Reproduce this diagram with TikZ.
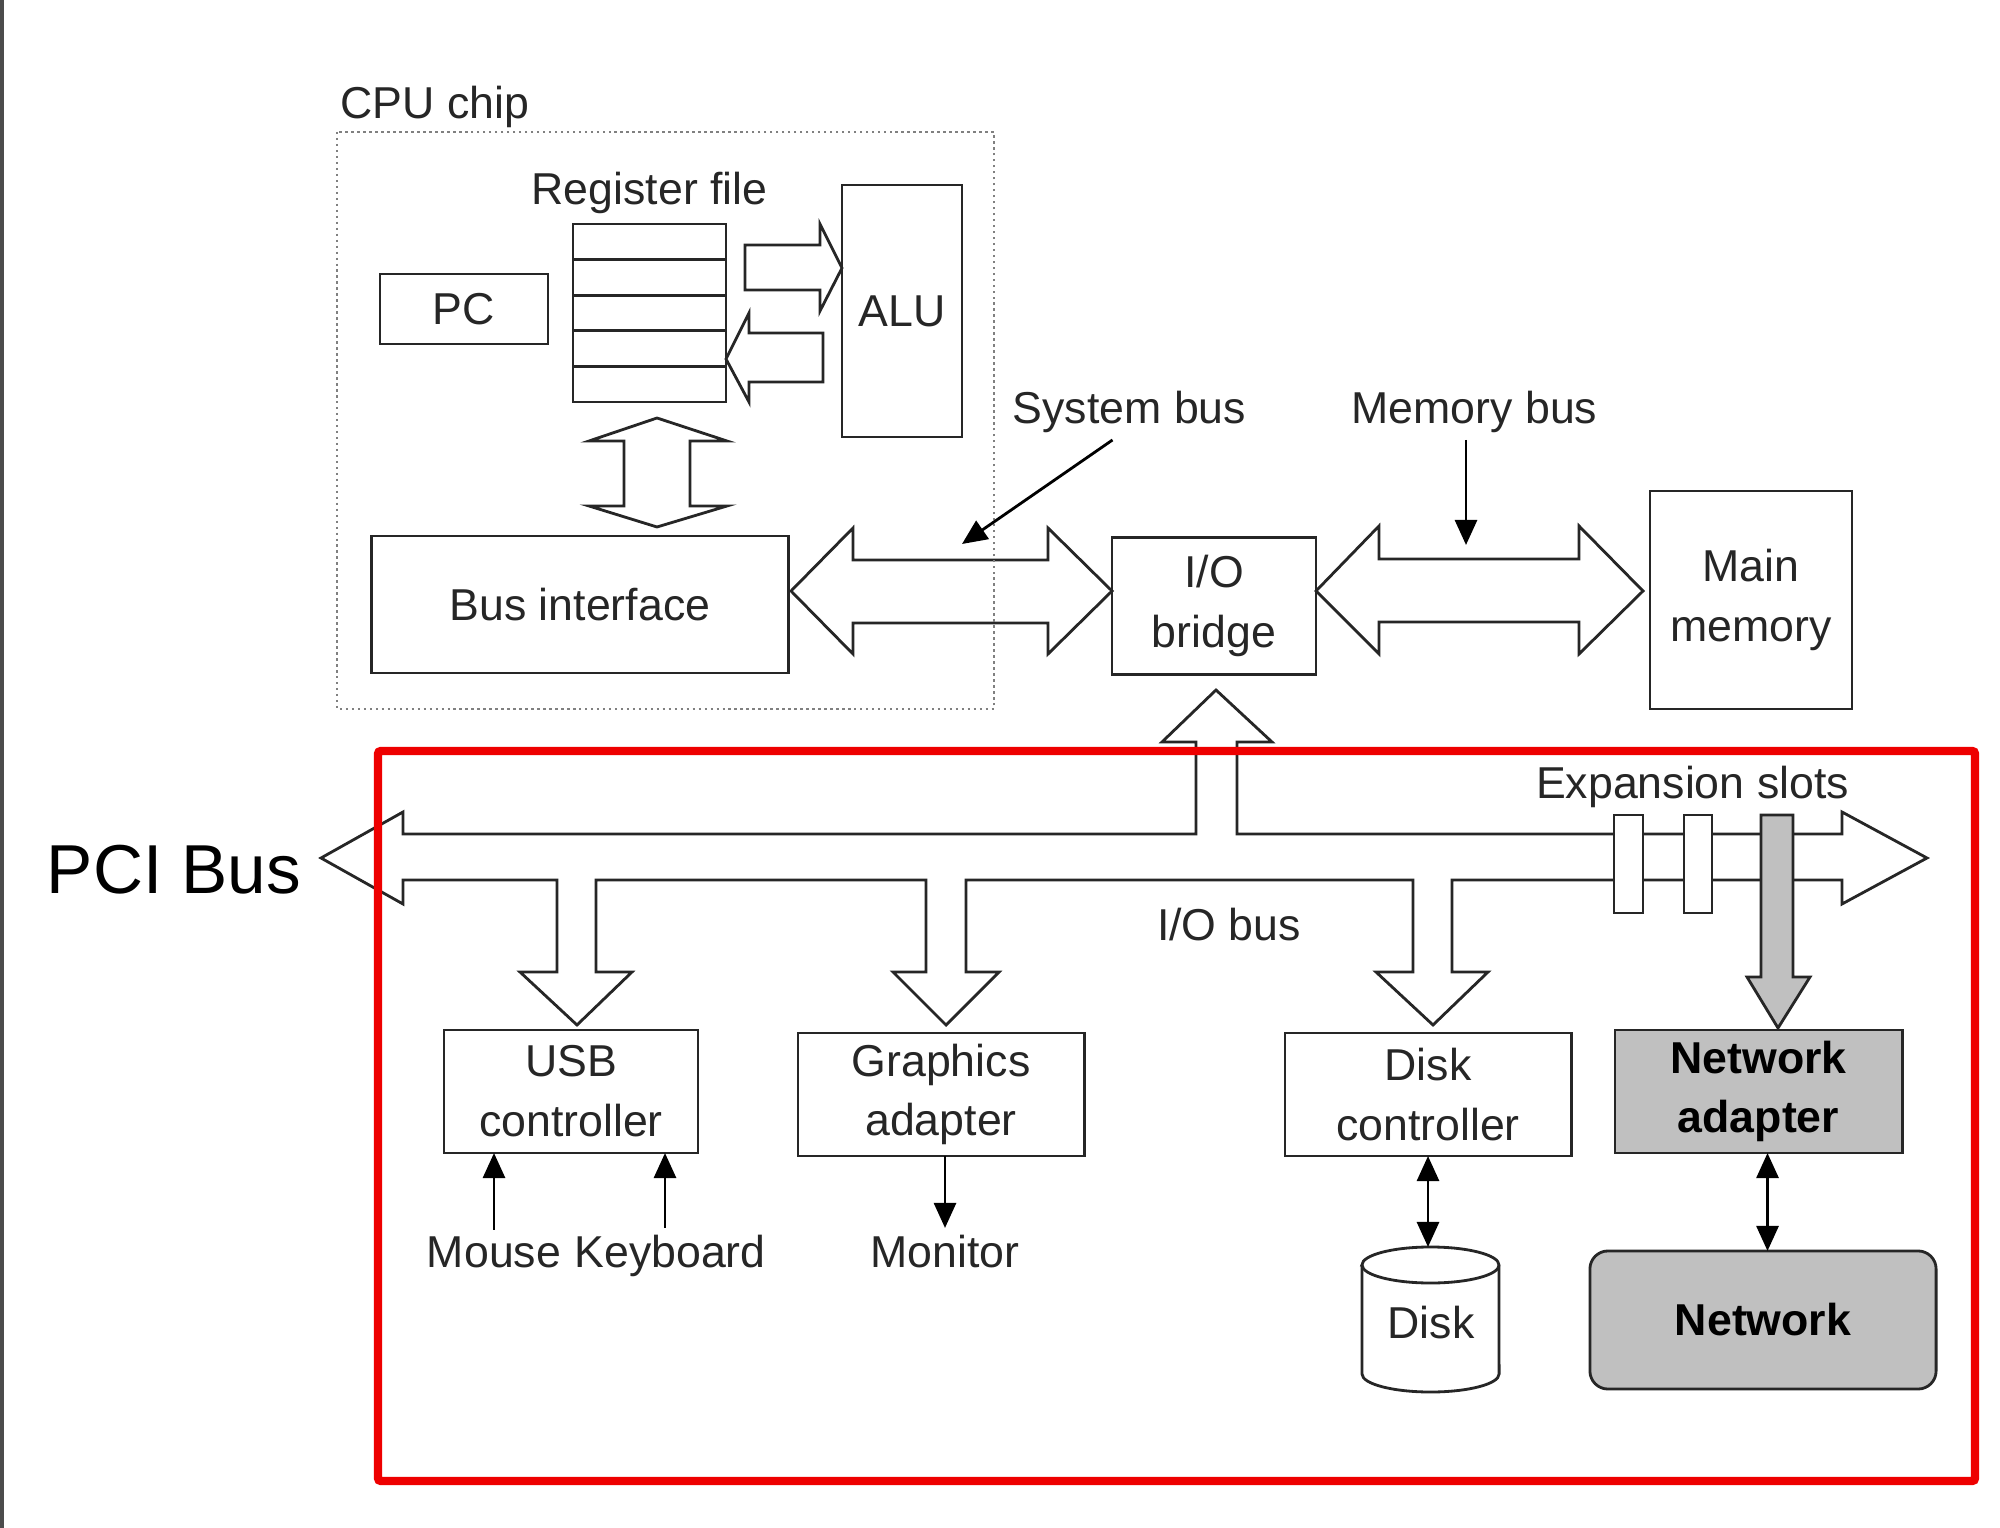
\documentclass[tikz,border=0pt]{standalone}
\usepackage{fontspec}
\setmainfont{Liberation Sans}
\usetikzlibrary{positioning,arrows.meta}
\definecolor{cardgray}{HTML}{C0C0C0}
\definecolor{busred}{HTML}{EE0000}

\begin{document}
\begin{tikzpicture}[
  x=0.01cm, y=-0.01cm,
  font=\fontsize{12.7}{17}\selectfont,
  every node/.style={align=center, text=black!85},
  box/.style     ={rectangle, draw=black!85, line width=0.8pt, fill=white,
                   inner sep=0pt, outer sep=0pt},
  card/.style    ={box, fill=cardgray, text=black,
                   font=\fontsize{12.7}{17}\selectfont\bfseries},
  lbl/.style     ={inner sep=0pt, anchor=base},
  bigarrow/.style={draw=black!85, line width=0.8pt, fill=white, line join=miter},
  arrow/.style   ={-{Triangle[length=2.5mm,width=2.2mm]}, line width=0.8pt, draw=black},
  dblarrow/.style={{Triangle[length=2.5mm,width=2.2mm]}-{Triangle[length=2.5mm,width=2.2mm]},
                   line width=0.8pt, draw=black},
]
\useasboundingbox (0,0) rectangle (2000,1528);

% slide edge
\fill[black!70] (0,0) rectangle (4,1528);

% -------- CPU chip --------------------------------------------------------
\node[box, minimum width=1.68cm, minimum height=0.70cm] (pc) at (464,309) {PC};
\node[box, minimum width=1.53cm, minimum height=1.78cm] (regs) at (649.5,313) {};
\foreach \k in {1,...,4}
  \draw[line width=0.8pt, black!85] (regs.north west) ++(0,35.6*\k) -- ++(153,0);
\node[above=0.9mm of regs, inner sep=0pt] (reglbl) {Register file};
\node[box, minimum width=1.20cm, minimum height=2.52cm] (alu) at (902,311) {ALU};
\node[box, minimum width=4.16cm, minimum height=1.37cm] (busif) at (580,604.5) {Bus interface};

% register file <-> ALU
\draw[bigarrow] (745,245) -- (820,245) -- (820,224) -- (842,268) -- (820,311)
  -- (820,290) -- (745,290) -- cycle;
\draw[bigarrow] (823,333) -- (749,333) -- (749,313) -- (726,359) -- (749,402)
  -- (749,382) -- (823,382) -- cycle;

% register file <-> bus interface
\draw[bigarrow] (657,418) -- (727,441) -- (690,441) -- (690,506) -- (727,506)
  -- (657,527) -- (589,506) -- (624,506) -- (624,441) -- (589,441) -- cycle;

% -------- system bus / memory bus -----------------------------------------
\node[box, minimum width=2.04cm, minimum height=1.37cm] (bridge) at (1214,606) {I/O\\bridge};
\node[box, minimum width=2.02cm, minimum height=2.18cm] (mem) at (1751,600) {Main\\memory};

\draw[bigarrow] (791,591) -- (853,528) -- (853,560) -- (1048,560) -- (1048,528)
  -- (1112,591) -- (1048,654) -- (1048,623) -- (853,623) -- (853,654) -- cycle;
\draw[bigarrow] (1316,591) -- (1379,526) -- (1379,559) -- (1579,559) -- (1579,526)
  -- (1643,591) -- (1579,654) -- (1579,622) -- (1379,622) -- (1379,654) -- cycle;

\draw[gray, densely dotted, line width=0.7pt] (337,132) rectangle (994,709);
\node[lbl] (cpulbl) at (435,119) {CPU chip};

\node[lbl] (syslbl) at (1129.5,424) {System bus};
\node[lbl] (memlbl) at (1474.5,424) {Memory bus};
\coordinate (sysptr) at (962,544);
\coordinate (memptr) at (1466,545);
\draw[arrow] ([xshift=-0.17cm,yshift=-0.06cm]syslbl.south) -- (sysptr);
\draw[arrow] ([yshift=-0.06cm]memlbl.south -| memptr) -- (memptr);

% -------- I/O bus ---------------------------------------------------------
\draw[bigarrow] (321,858) -- (403,812) -- (403,834) -- (1196,834) -- (1196,742)
  -- (1162,742) -- (1216,690) -- (1272,742) -- (1237,742) -- (1237,834)
  -- (1842,834) -- (1842,812) -- (1927,858) -- (1842,904) -- (1842,880)
  -- (1452,880) -- (1452,972) -- (1488,972) -- (1433,1025) -- (1376,972) -- (1413,972) -- (1413,880)
  -- (966,880) -- (966,972) -- (999,972) -- (946,1025) -- (893,972) -- (926,972) -- (926,880)
  -- (596,880) -- (596,972) -- (632,972) -- (577,1025) -- (520,972) -- (557,972) -- (557,880)
  -- (403,880) -- (403,904) -- cycle;

% expansion slots
\node[box, minimum width=0.29cm, minimum height=0.98cm] (slot1) at (1628.5,864) {};
\node[box, minimum width=0.28cm, minimum height=0.98cm] (slot2) at (1698,864) {};
\draw[bigarrow, fill=cardgray] (1761,815) -- (1793,815) -- (1793,977) -- (1810,977)
  -- (1778,1028) -- (1747,977) -- (1761,977) -- cycle;

\node[lbl] (slotlbl) at (1692.5,798) {Expansion slots};
\node[lbl] (iolbl) at (1229,940) {I/O bus};
\node[lbl, font=\fontsize{19.7}{24}\selectfont, text=black] (pci) at (174,893) {PCI Bus};

% -------- devices ---------------------------------------------------------
\node[box, minimum width=2.54cm, minimum height=1.23cm] (usb) at (571,1091.5) {USB\\controller};
\node[box, minimum width=2.86cm, minimum height=1.23cm] (gfx) at (941,1094.5) {Graphics\\adapter};
\node[box, minimum width=2.86cm, minimum height=1.23cm] (dctl) at (1428,1094.5) {Disk\\controller};
\node[card, minimum width=2.87cm, minimum height=1.23cm] (nic) at (1758.5,1091.5) {Network\\adapter};
\node[card, rounded corners=0.18cm, minimum width=3.46cm, minimum height=1.38cm] (net) at (1763,1320) {Network};

\node[lbl] (mouse) at (494,1267) {Mouse};
\node[lbl] (kbd) at (670,1267) {Keyboard};
\node[lbl] (mon) at (945,1267) {Monitor};

\draw[arrow] ([yshift=0.06cm]mouse.north) -- (mouse.north |- usb.south);
\draw[arrow] ([xshift=-0.05cm,yshift=0.06cm]kbd.north) -- ([xshift=-0.05cm]kbd.north |- usb.south);
\draw[arrow] (gfx.south -| mon.north) -- ([yshift=0.06cm]mon.north);

% disk
\draw[line width=0.8pt, draw=black!85, fill=white] (1362,1265) -- (1362,1374)
  arc[start angle=180, end angle=360, x radius=0.685cm, y radius=0.18cm]
  -- (1499,1265) arc[start angle=0, end angle=180, x radius=0.685cm, y radius=0.18cm] -- cycle;
\draw[line width=0.8pt, draw=black!85] (1362,1265)
  arc[start angle=180, end angle=360, x radius=0.685cm, y radius=0.18cm];
\node (disk) at (1431,1323) {Disk};
\coordinate (disktop) at (1431,1247);
\draw[dblarrow] (dctl.south) -- (dctl.south |- disktop);
\draw[dblarrow] ([xshift=0.09cm]nic.south) -- ([xshift=0.09cm]nic.south |- net.north);

% -------- PCI highlight ---------------------------------------------------
\draw[busred, line width=2.4pt, rounded corners=0.03cm] (378,751) rectangle (1975,1481);

\end{tikzpicture}
\end{document}
